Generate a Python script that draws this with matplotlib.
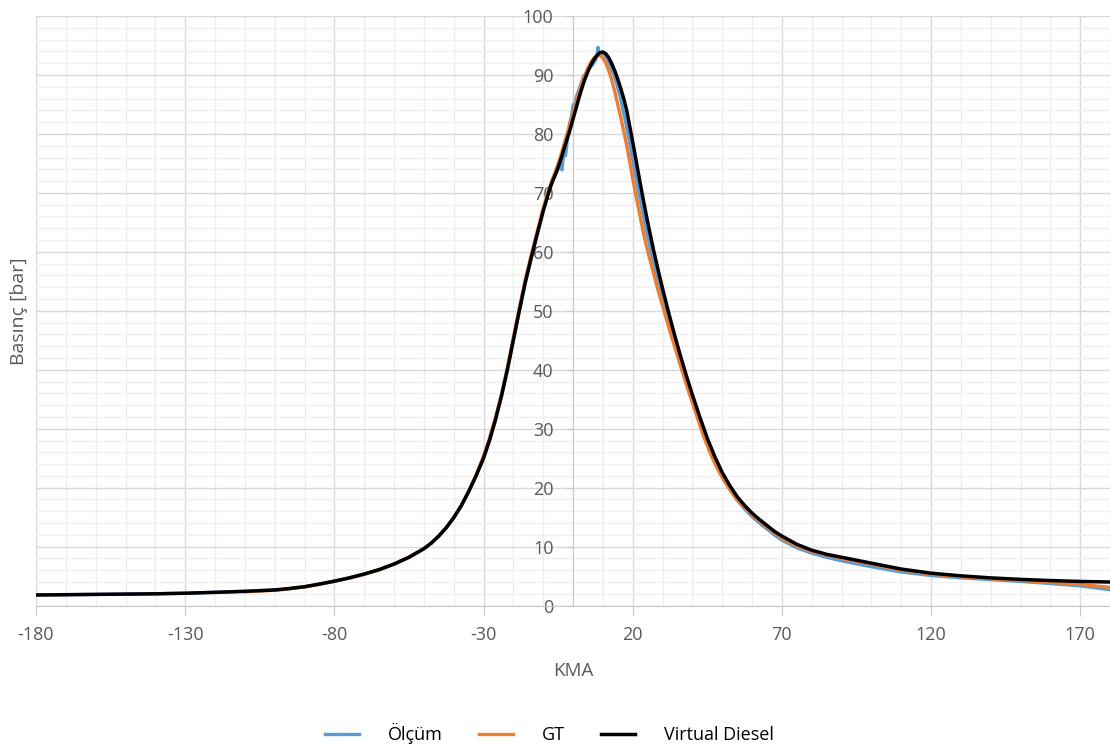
import numpy as np
import matplotlib
matplotlib.use('Agg')
import matplotlib.pyplot as plt
from matplotlib.ticker import MultipleLocator, FixedLocator

plt.rcParams['font.family'] = ['Open Sans', 'DejaVu Sans']
plt.rcParams['axes.unicode_minus'] = False

# ----------------------------------------------------------
# Virtual Diesel (black)
kma_vd = [-180, -170, -160, -150, -140, -130, -120, -110, -100, -95, -90, -85, -80, -75, -70, -65,
          -60, -55, -50, -47.5, -45, -42.5, -40, -37.5, -35, -32.5, -30, -28, -26, -24, -22, -20,
          -18, -16, -14, -12, -10, -8, -7, -6, -5, -4, -3, -2, -1, 0, 1, 2, 3, 4, 5, 6, 7, 8,
          9, 10, 11, 12, 13, 14, 15, 16, 17, 18, 19.5, 20.5, 21.5, 22.5, 23.5, 24.5, 25.5, 27,
          28.5, 30, 32, 34, 36, 38, 40, 42.5, 45, 47.5, 50, 52.5, 55, 57.5, 60, 62.5, 65, 67.5,
          70, 75, 80, 85, 90, 95, 100, 110, 120, 130, 140, 150, 160, 170, 180]
p_vd = [1.8, 1.85, 1.9, 1.95, 2.0, 2.1, 2.25, 2.42, 2.65, 2.9, 3.2, 3.65, 4.15, 4.7, 5.35, 6.1,
        7.05, 8.2, 9.65, 10.6, 11.8, 13.2, 14.9, 16.9, 19.3, 22.0, 25.0, 28.0, 31.5, 35.5, 40.0, 45.0,
        50.0, 54.8, 59.0, 63.0, 66.9, 70.3, 71.8, 73.0, 74.3, 75.8, 77.5, 79.1, 80.7, 82.5, 84.3, 86.1, 87.8, 89.3, 90.6, 91.7, 92.6, 93.3,
        93.8, 93.9, 93.6, 92.9, 91.9, 90.7, 89.3, 87.7, 86.0, 84.0, 80.0, 77.3, 74.5, 71.7, 69.0, 66.4, 63.9, 60.3,
        57.0, 53.8, 49.8, 46.0, 42.4, 39.0, 35.8, 32.0, 28.4, 25.3, 22.6, 20.4, 18.5, 17.0, 15.7, 14.6, 13.6, 12.6,
        11.8, 10.4, 9.4, 8.7, 8.2, 7.7, 7.2, 6.2, 5.5, 5.05, 4.7, 4.45, 4.25, 4.1, 4.0]

# GT (orange)
kma_gt = [-110, -100, -95, -90, -85, -80, -75, -70, -65, -60, -55, -50, -47.5, -45, -42.5, -40,
          -37.5, -35, -32.5, -30, -28, -26, -24, -22, -20, -18, -16, -14, -12, -10, -8, -7,
          -6, -5, -4, -3, -2, -1, 0, 1, 2, 3, 4, 5, 6, 7, 8, 9, 10, 11, 12, 13, 14, 15, 16, 17,
          18, 19, 20, 21, 22, 23, 24, 25.5, 27, 28.5, 30.5, 32.5, 34.5, 36.5, 38.5, 41, 43.5, 46,
          48.5, 51, 54, 57, 60, 65, 70, 75, 80, 90, 100, 110, 120, 130, 140, 150, 160, 170, 180]
p_gt = [2.35, 2.6, 2.85, 3.15, 3.6, 4.1, 4.65, 5.3, 6.05, 7.0, 8.15, 9.6, 10.6, 11.8, 13.2, 14.9,
        16.9, 19.4, 22.2, 25.3, 28.4, 31.9, 35.8, 40.4, 45.5, 50.5, 55.3, 59.5, 63.5, 67.4, 70.7, 72.2,
        73.5, 74.9, 76.5, 78.2, 80.0, 81.7, 83.5, 85.3, 87.0, 88.6, 90.0, 91.2, 92.2, 92.9, 93.3, 93.3, 92.9, 92.0, 90.7, 89.1, 87.2, 85.0, 82.8, 80.5,
        78.0, 75.3, 72.5, 69.8, 67.2, 64.7, 62.3, 59.2, 56.3, 53.5, 50.0, 46.5, 43.2, 39.9, 36.7, 32.9, 29.1, 25.8,
        23.1, 20.9, 18.6, 16.9, 15.4, 13.3, 11.4, 10.1, 9.2, 8.0, 7.05, 6.05, 5.35, 4.9, 4.55, 4.25, 3.95, 3.6, 3.1]

# Olcum (blue, measured - noisy around the peak)
kma_ol = [-180, -170, -160, -150, -140, -130, -120, -110, -100, -95, -90, -85, -80, -75, -70, -65,
          -60, -55, -50, -47.5, -45, -42.5, -40, -37.5, -35, -32.5, -30, -28, -26, -24, -22, -20,
          -18, -16, -14, -12, -10, -8, -7, -6, -5, -4.3, -3.7, -3.1, -2.5, -1.8, -1.1, -0.5, 0.1,
          0.6, 1.2, 2.0, 2.8, 3.6, 4.4, 5.2, 6.0, 6.8, 7.5, 8.0, 8.4, 8.8, 9.3, 9.8, 10.8, 11.8,
          12.8, 13.8, 14.8, 15.8, 16.8, 17.8, 18.8, 19.8, 20.8, 21.8, 22.8, 23.8, 25, 26.5, 28,
          29.5, 31.5, 33.5, 35.5, 37.5, 40, 42.5, 45, 47.5, 50, 52.5, 55, 57.5, 60, 62.5, 65,
          67.5, 70, 75, 80, 85, 90, 95, 100, 110, 120, 130, 140, 150, 160, 170, 180]
p_ol = [1.8, 1.85, 1.9, 1.95, 2.0, 2.1, 2.25, 2.42, 2.65, 2.9, 3.2, 3.65, 4.15, 4.7, 5.35, 6.1,
        7.05, 8.2, 9.65, 10.6, 11.8, 13.2, 14.9, 16.9, 19.3, 22.0, 25.0, 28.0, 31.5, 35.5, 40.0, 45.0,
        50.0, 54.8, 59.0, 63.0, 67.0, 70.6, 71.9, 72.9, 74.0, 74.6, 73.9, 76.8, 76.3, 79.5, 81.8, 83.0, 85.0,
        84.6, 86.4, 87.5, 88.6, 89.9, 90.2, 91.0, 91.4, 91.9, 92.5, 93.1, 94.7, 93.3, 93.5, 93.7, 93.3, 92.4,
        91.2, 89.9, 88.2, 86.3, 84.0, 81.6, 79.0, 76.2, 73.4, 70.7, 68.1, 65.6, 62.7, 59.3, 56.2,
        53.3, 49.5, 45.9, 42.5, 39.2, 35.3, 31.4, 27.6, 24.5, 21.9, 19.8, 17.9, 16.4, 15.1, 14.0, 13.0,
        12.0, 11.1, 9.8, 8.9, 8.2, 7.6, 7.1, 6.6, 5.7, 5.1, 4.7, 4.4, 4.1, 3.75, 3.35, 2.7]

xticks = [-180, -130, -80, -30, 20, 70, 120, 170]

# ----------------------------------------------------------
fig = plt.figure(figsize=(11.1, 7.47), dpi=100)
ax = fig.add_axes([36/1110., 1-605.6/747., 1-36/1110., (605.6-16)/747.])

ax.plot(kma_ol, p_ol, color='#5b9bd5', lw=2.4, label=u'Ölçüm', zorder=3)
ax.plot(kma_gt, p_gt, color='#ed7d31', lw=2.4, label='GT', zorder=4)
ax.plot(kma_vd, p_vd, color='black', lw=2.5, label='Virtual Diesel', zorder=5)

ax.set_xlim(-180, 180)
ax.set_ylim(0, 100)

ax.xaxis.set_major_locator(FixedLocator(xticks))
ax.xaxis.set_minor_locator(MultipleLocator(10))
ax.yaxis.set_major_locator(MultipleLocator(10))
ax.yaxis.set_minor_locator(MultipleLocator(2))

ax.grid(which='major', color='#d9d9d9', lw=1.0, zorder=0)
ax.grid(which='minor', color='#efefef', lw=1.0, zorder=0)
ax.set_axisbelow(True)

# y axis sits at x = 0, x axis at y = 0
for s in ['top', 'right']:
    ax.spines[s].set_visible(False)
ax.spines['left'].set_position(('data', 0))
ax.spines['left'].set_color('#c8c8c8')
ax.spines['bottom'].set_color('#c8c8c8')
ax.spines['left'].set_zorder(1)
ax.spines['bottom'].set_zorder(1)

ax.tick_params(axis='y', which='major', length=5, color='#c8c8c8', pad=9,
               labelsize=13, labelcolor='#595959')
ax.tick_params(axis='x', which='major', length=7, color='#c8c8c8', pad=8,
               labelsize=13, labelcolor='#595959')
ax.tick_params(which='minor', length=0)

ax.set_xlabel('KMA', fontsize=13.5, color='#595959', labelpad=13)
ax.text(-0.016, 0.5, u'Basınç [bar]', transform=ax.transAxes, rotation=90,
        ha='center', va='center', fontsize=14, color='#595959')

fig.legend(loc='center', bbox_to_anchor=(0.495, 0.018), ncol=3, frameon=False,
           fontsize=13, handlelength=1.9, handletextpad=1.6, columnspacing=2.0)

fig.savefig('out.png', dpi=100)
